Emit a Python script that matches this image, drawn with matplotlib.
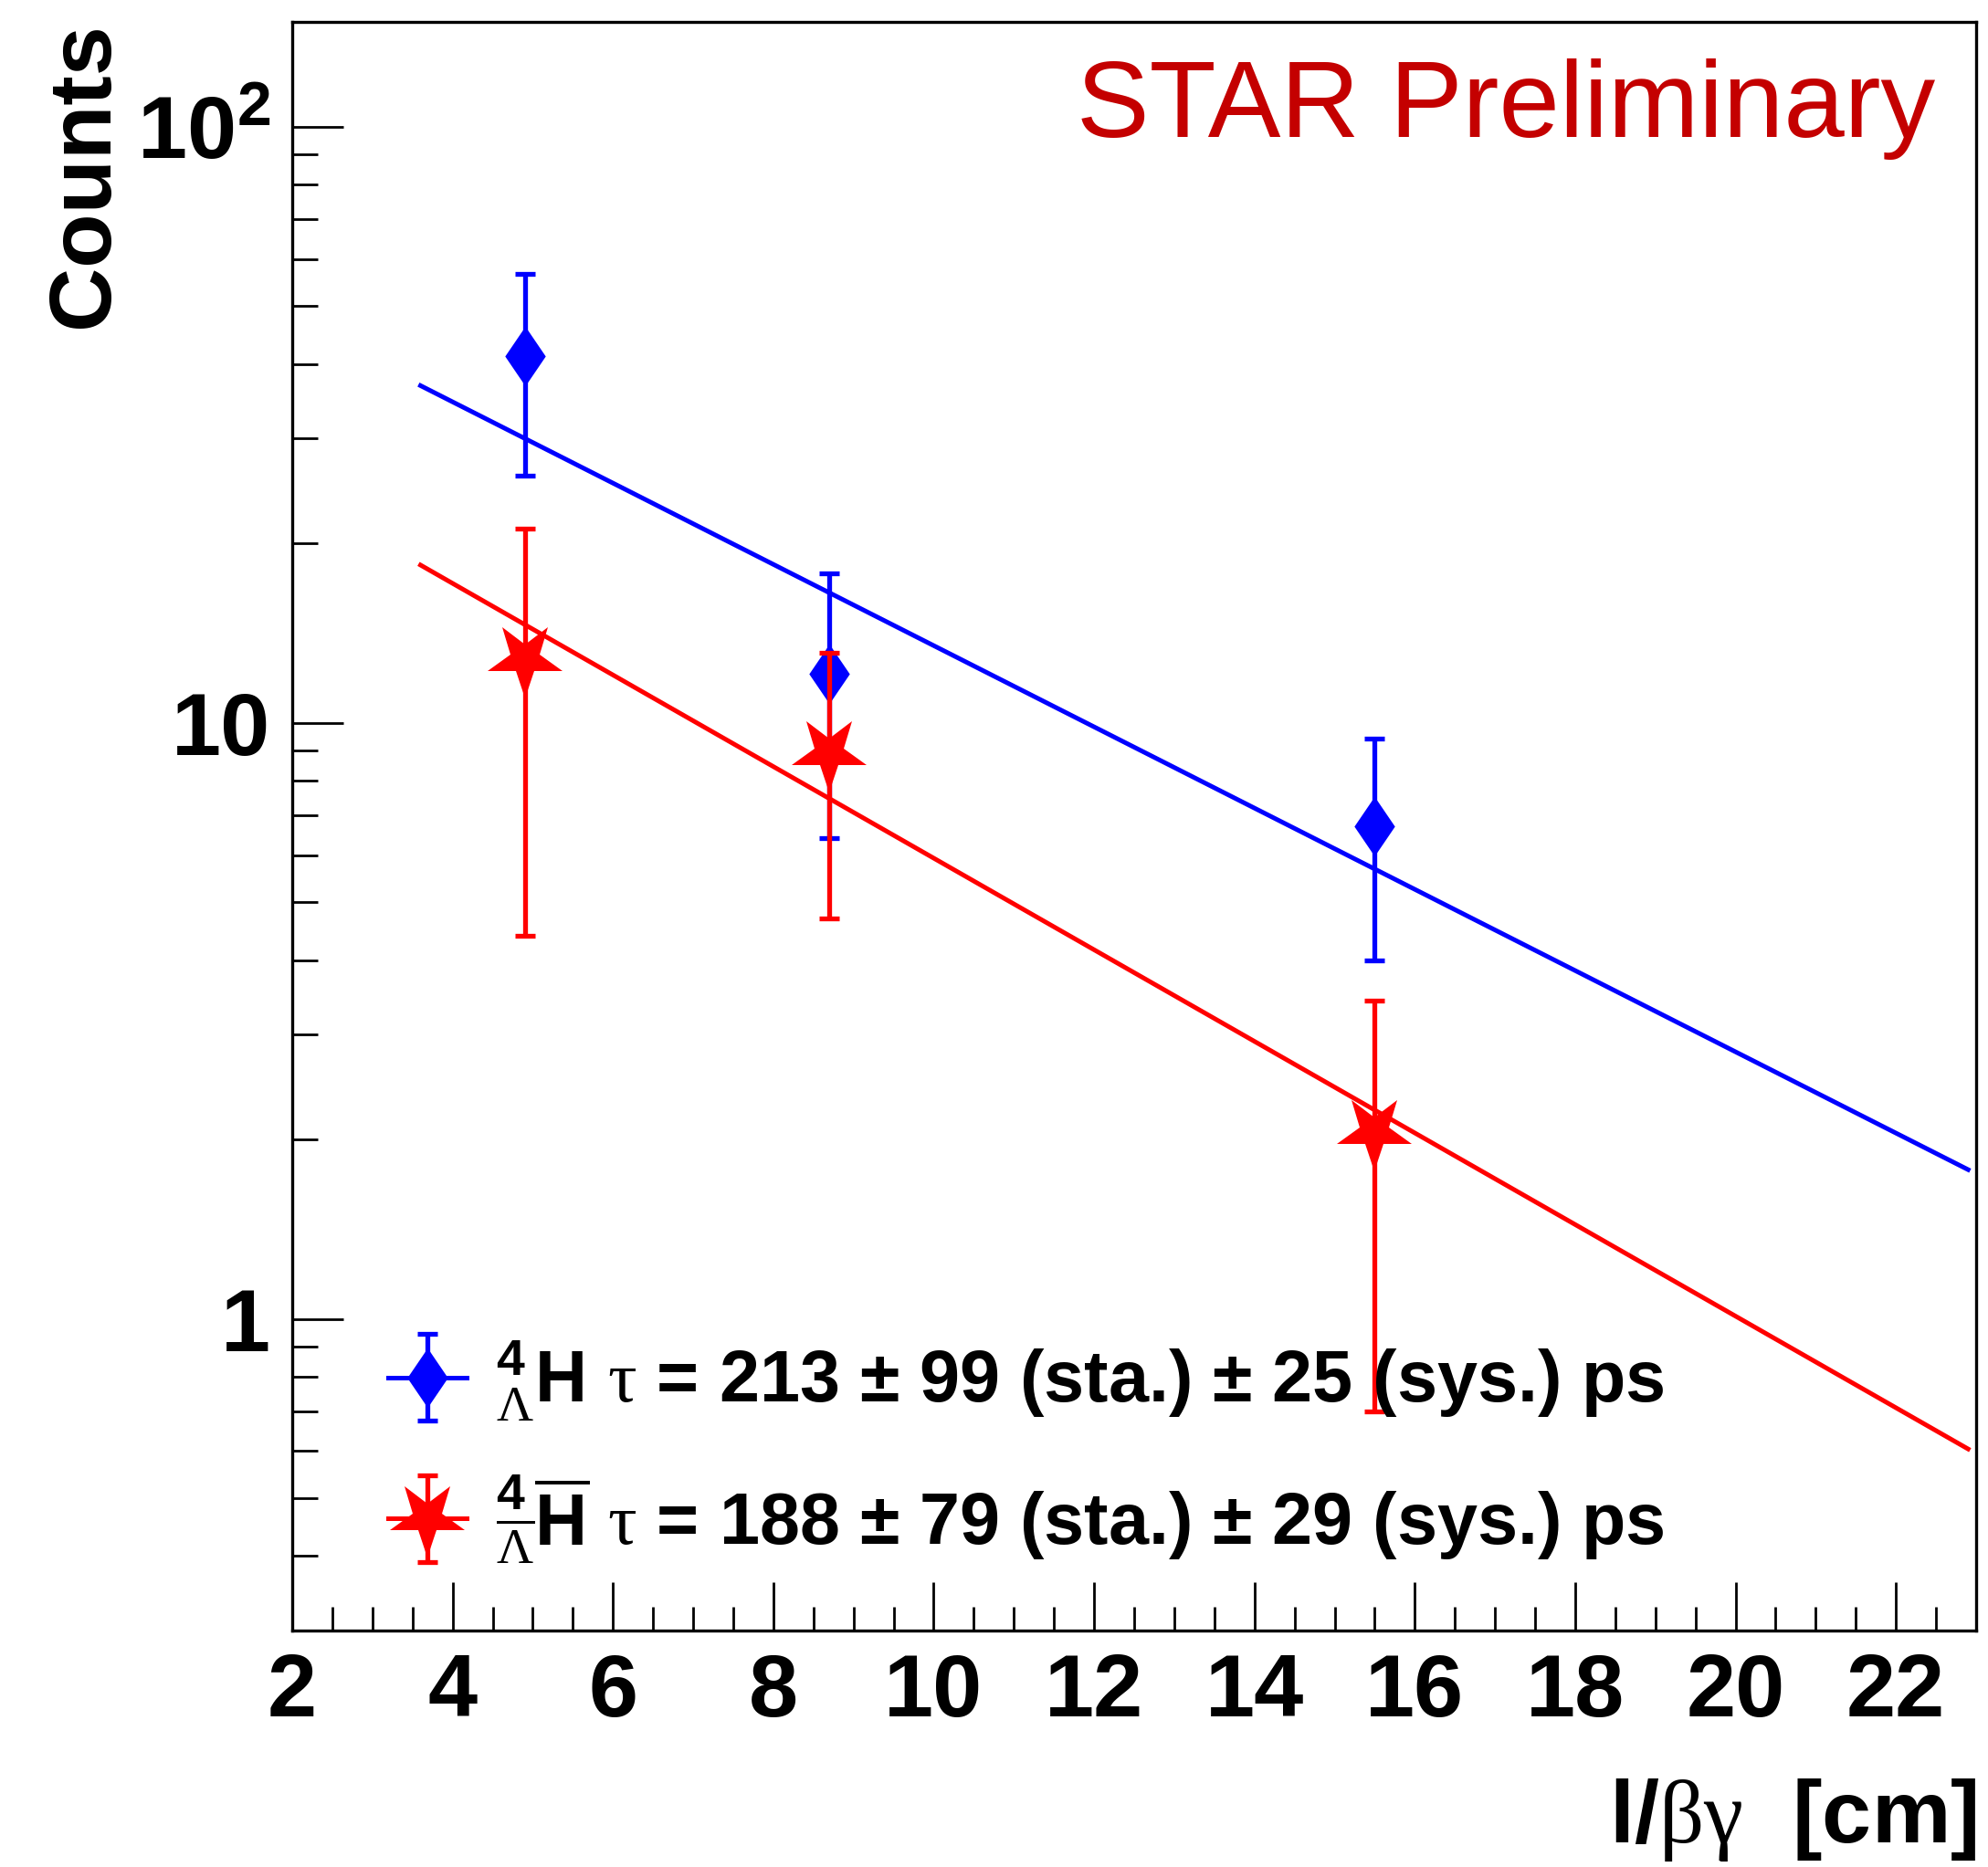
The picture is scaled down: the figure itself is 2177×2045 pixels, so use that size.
import numpy as np
import matplotlib
matplotlib.use("Agg")
import matplotlib.pyplot as plt
from matplotlib.markers import MarkerStyle
from matplotlib.transforms import Affine2D
from matplotlib.container import ErrorbarContainer
from matplotlib.legend_handler import HandlerErrorbar, HandlerTuple
from matplotlib.ticker import MultipleLocator, LogLocator, NullFormatter

plt.rcParams["font.family"] = ["Liberation Sans", "DejaVu Sans"]
plt.rcParams["font.weight"] = "bold"
plt.rcParams["axes.labelweight"] = "bold"
plt.rcParams["mathtext.fontset"] = "custom"
plt.rcParams["mathtext.rm"] = "Liberation Sans:bold"
plt.rcParams["mathtext.bf"] = "Liberation Sans:bold"
plt.rcParams["mathtext.it"] = "Liberation Sans:bold"
plt.rcParams["mathtext.sf"] = "Liberation Serif:weight=normal"
plt.rcParams["mathtext.default"] = "rm"

# decay length l/(beta*gamma) bins, cm
x_pts = [4.9, 8.7, 15.5]
h4_counts = [41.3, 12.1, 6.7]
h4_err = [15.3, 5.7, 2.7]
antih4_counts = [12.8, 8.9, 2.06]
antih4_err = [8.4, 4.2, 1.36]

# exponential fits (straight on log scale), end points
fit_x = [3.6, 22.9]
h4_fit = [36.8, 1.78]
antih4_fit = [18.4, 0.605]

leg_labels = [r"${}^{4}_{\mathsf{\Lambda}}\mathrm{H}$ $\mathsf{\tau}$ = 213 ± 99 (sta.) ± 25 (sys.) ps",
              r"${}^{4}_{\overline{\mathsf{\Lambda}}}\overline{\mathrm{H}}$ $\mathsf{\tau}$ = 188 ± 79 (sta.) ± 29 (sys.) ps"]
xticks = list(range(2, 23, 2))
yticks = [1, 10, 100]
ytick_labels = ["1", "10", "$10^{2}$"]

W, H = 2177, 2045
fig = plt.figure(figsize=(W / 100, H / 100), dpi=100)
ax = fig.add_axes([320 / W, 1 - 1786 / H, 1844 / W, 1762 / H])

diamond = [(0, 1), (0.68, 0), (0, -1), (-0.68, 0), (0, 1)]
star_down = MarkerStyle("*", transform=Affine2D().rotate_deg(180))

blue_line, = ax.plot(fit_x, h4_fit, color="blue", lw=3.6, zorder=3)
red_line, = ax.plot(fit_x, antih4_fit, color="red", lw=3.6, zorder=3)

eb_blue = ax.errorbar(x_pts, h4_counts, yerr=h4_err, marker=diamond, ls="none",
                      color="blue", ms=47, elinewidth=3.8, capsize=8,
                      capthick=3.8, zorder=2)
eb_red = ax.errorbar(x_pts, antih4_counts, yerr=antih4_err, marker=star_down, ls="none",
                     color="red", ms=62, elinewidth=3.8, capsize=8,
                     capthick=3.8, zorder=2.1)
eb_blue[0].set_markeredgewidth(0)
eb_red[0].set_markeredgewidth(0)

ax.set_xlim(2, 23)
ax.set_yscale("log")
ax.set_ylim(0.3, 150)
ax.set_xticks(xticks)
ax.xaxis.set_minor_locator(MultipleLocator(0.5))
ax.set_yticks(yticks, ytick_labels)
ax.yaxis.set_minor_locator(LogLocator(subs=np.arange(2, 10)))
ax.yaxis.set_minor_formatter(NullFormatter())

ax.tick_params(which="both", direction="in", top=False, right=False, width=2)
ax.tick_params(axis="y", which="major", length=40, pad=17, labelsize=70)
ax.tick_params(axis="y", which="minor", length=20)
ax.tick_params(axis="x", which="major", length=38, pad=17, labelsize=70)
ax.tick_params(axis="x", which="minor", length=19)
for s in ax.spines.values():
    s.set_linewidth(2.4)

ax.set_xlabel(r"l/$\mathsf{\beta\gamma}$  [cm]", fontsize=70, fontweight="bold", loc="right")
ax.xaxis.label.set_va("baseline")
ax.xaxis.set_label_coords(1.0, -0.1317)
ax.set_ylabel("Counts", fontsize=70, fontweight="bold", loc="top")
ax.yaxis.label.set_va("baseline")
ax.yaxis.set_label_coords(-0.1095, 1.0)

ax.text(0.976, 0.9285, "STAR Preliminary", transform=ax.transAxes, ha="right",
        va="baseline", fontsize=86, fontweight="normal", color="#c40000")

hmap = {ErrorbarContainer: HandlerErrorbar(yerr_size=0.6), tuple: HandlerTuple(ndivide=1)}
ax.legend([(blue_line, eb_blue), (red_line, eb_red)], leg_labels, handler_map=hmap,
          loc="center left", bbox_to_anchor=(0.057, 0.111), frameon=False,
          prop={"size": 57, "weight": "bold"}, handlelength=1.08, handletextpad=0.41,
          labelspacing=0.68, borderpad=0, borderaxespad=0)

fig.savefig("out.png", dpi=100)
